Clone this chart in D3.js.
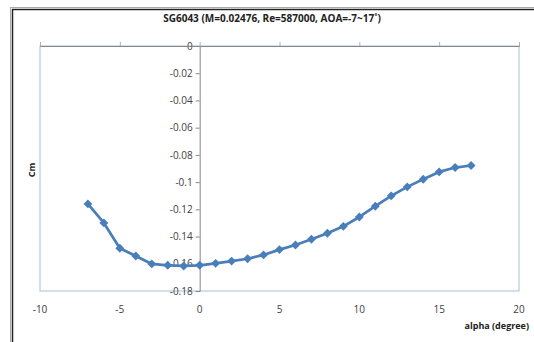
<!DOCTYPE html>
<html lang="en">
<head>
    <meta charset="UTF-8">
    <title>SG6043 Cm</title>
    <script src="https://d3js.org/d3.v7.min.js"></script>
    <style>
        body { margin: 0; background: #fff; font-family: "Open Sans", "Liberation Sans", sans-serif; }
        svg { display: block; }
        .tick-label { font-size: 10px; fill: #404040; }
        .title { font-size: 10px; font-weight: bold; fill: #222; text-anchor: middle; }
        .axis-title { font-size: 9px; font-weight: bold; fill: #222; }
    </style>
</head>
<body>
    <svg width="534" height="342"></svg>
    <script>
        const alpha = [-7, -6, -5, -4, -3, -2, -1, 0, 1, 2, 3, 4, 5, 6, 7, 8, 9, 10, 11, 12, 13, 14, 15, 16, 17];
        const cm = [-0.116, -0.130, -0.1486, -0.1543, -0.1601, -0.1611, -0.1616, -0.1611, -0.1597, -0.158,
                    -0.1563, -0.1535, -0.1496, -0.1462, -0.142, -0.1376, -0.1325, -0.1256, -0.1177, -0.1101,
                    -0.1035, -0.0979, -0.0925, -0.0893, -0.0878];
        const xTicks = [-10, -5, 0, 5, 10, 15, 20];
        const yTicks = [0, -0.02, -0.04, -0.06, -0.08, -0.1, -0.12, -0.14, -0.16, -0.18];

        const svg = d3.select("svg");
        const plotL = 40, plotR = 519, plotT = 46, plotB = 291;

        const x = d3.scaleLinear().domain([-10, 20]).range([plotL, plotR]);
        const y = d3.scaleLinear().domain([-0.18, 0]).range([plotB, plotT]);

        // chart frame (double line, right/bottom run off the picture)
        svg.append("rect").attr("x", 10.5).attr("y", 7.5).attr("width", 540).attr("height", 360)
            .attr("fill", "none").attr("stroke", "#aaa").attr("stroke-width", 1);
        svg.append("rect").attr("x", 12.5).attr("y", 9.5).attr("width", 540).attr("height", 360)
            .attr("fill", "none").attr("stroke", "#222").attr("stroke-width", 1.5);

        // plot area
        svg.append("rect").attr("x", plotL).attr("y", plotT).attr("width", plotR - plotL).attr("height", plotB - plotT)
            .attr("fill", "#fff").attr("stroke", "#a9bfd9").attr("stroke-width", 1);

        svg.append("text").attr("class", "title").attr("x", 272).attr("y", 22)
            .text("SG6043 (M=0.02476, Re=587000, AOA=-7~17\u02da)");

        // y axis at alpha = 0
        const yAxis = d3.axisLeft(y).tickValues(yTicks).tickSize(4).tickFormat(d => String(+d.toFixed(2)));
        const gy = svg.append("g").attr("transform", `translate(${x(0)},0)`).call(yAxis);
        gy.select(".domain").attr("stroke", "#868686");
        gy.selectAll(".tick line").attr("stroke", "#868686");
        gy.selectAll(".tick text").attr("class", "tick-label").attr("font-family", null).attr("font-size", null)
            .attr("fill", null).attr("x", -7);
        gy.attr("font-family", null).attr("font-size", null);

        // x axis at Cm = 0 (top), labels at the bottom
        const xAxis = d3.axisTop(x).tickValues(xTicks).tickSize(4).tickFormat("");
        const gx = svg.append("g").attr("transform", `translate(0,${y(0)})`).call(xAxis);
        gx.select(".domain").attr("stroke", "#868686");
        gx.selectAll(".tick line").attr("stroke", "#b0b0b0");

        svg.append("g").selectAll("text").data(xTicks).join("text")
            .attr("class", "tick-label").attr("text-anchor", "middle")
            .attr("x", d => x(d)).attr("y", 313).text(d => d);

        svg.append("text").attr("class", "axis-title").attr("text-anchor", "end")
            .attr("x", 529).attr("y", 329).text("alpha (degree)");
        svg.append("text").attr("class", "axis-title").attr("text-anchor", "middle")
            .attr("transform", "translate(35,170) rotate(-90)").text("Cm");

        // series
        const pts = alpha.map((a, i) => [a, cm[i]]);
        svg.append("path").datum(pts)
            .attr("fill", "none").attr("stroke", "#4a7ebb").attr("stroke-width", 2.75)
            .attr("stroke-linejoin", "round")
            .attr("d", d3.line().x(d => x(d[0])).y(d => y(d[1])));

        svg.append("g").selectAll("path").data(pts).join("path")
            .attr("fill", "#4a7ebb")
            .attr("d", d3.symbol(d3.symbolDiamond2, 50))
            .attr("transform", d => `translate(${x(d[0])},${y(d[1])})`);
    </script>
</body>
</html>
